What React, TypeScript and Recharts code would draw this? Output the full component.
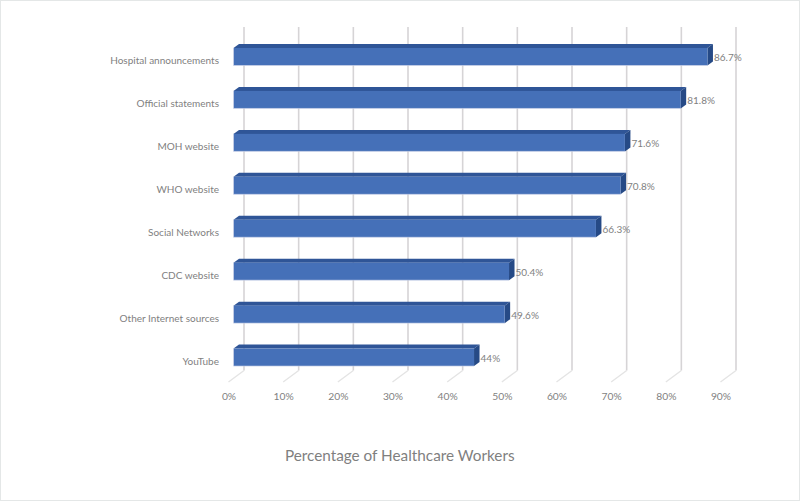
import React from 'react';
import { BarChart, Bar, XAxis, YAxis, CartesianGrid, LabelList } from 'recharts';

const categories = ['Hospital announcements', 'Official statements', 'MOH website', 'WHO website', 'Social Networks', 'CDC website', 'Other Internet sources', 'YouTube'];
const values = [86.7, 81.8, 71.6, 70.8, 66.3, 50.4, 49.6, 44];
const xTicks = [0, 10, 20, 30, 40, 50, 60, 70, 80, 90];
const axisTitle = 'Percentage of Healthcare Workers';
const data = categories.map((name, i) => ({ name, value: values[i] }));

const FONT = 'Lato, "Open Sans", sans-serif';
const TEXT = '#7f7f7f';
const DX = 5.5;
const DY = 4;

const Bar3D = (p: any) => {
  const { x, y, width: w, height: h } = p;
  return (
    <g>
      <polygon points={`${x},${y} ${x + DX},${y - DY} ${x + w + DX},${y - DY} ${x + w},${y}`} fill="#2f5597" />
      <polygon points={`${x + w},${y} ${x + w + DX},${y - DY} ${x + w + DX},${y + h - DY} ${x + w},${y + h}`} fill="#264a86" />
      <rect x={x} y={y} width={w} height={h} fill="#4570b8" />
      <path d={`M${x},${y} L${x},${y + h} L${x + w},${y + h}`} fill="none" stroke="#d5d9ec" strokeWidth={0.6} />
    </g>
  );
};

const GridLine = (p: any) => {
  const { x1, y1, y2 } = p;
  const bx = x1 + 10.5;
  return (
    <g key={`g-${x1}`} fill="none">
      <path d={`M${bx},${y1 - 8} L${bx},${y2 - 8}`} stroke="#d6d4d6" strokeWidth={1.6} />
      <path d={`M${bx},${y2 - 8} L${x1 - 5},${y2 + 3.5}`} stroke="#e4e4e4" strokeWidth={1.4} />
    </g>
  );
};

const XTick = (p: any) => (
  <text x={p.x - 4.5} y={400} textAnchor="middle" fontFamily={FONT} fontSize={10.3} fill={TEXT}>
    {p.payload.value}%
  </text>
);

const YTick = (p: any) => (
  <text x={219} y={p.y + 7.5} textAnchor="end" fontFamily={FONT} fontSize={10} fill={TEXT}>
    {p.payload.value}
  </text>
);

export default function App() {
  return (
    <div style={{ position: 'absolute', left: 0, top: 0, width: 800, height: 501, background: '#fff', overflow: 'hidden' }}>
      <div style={{ position: 'absolute', left: 0, top: 0, width: 798, height: 499, border: '1px solid #e4e7e7' }} />
      <div style={{ position: 'absolute', left: 0, top: 0 }}>
        <BarChart
          width={800}
          height={501}
          data={data}
          layout="vertical"
          margin={{ top: 35, right: 74.5, bottom: 0, left: 0 }}
          barSize={17.5}
        >
          <CartesianGrid horizontal={false} vertical={GridLine as any} />
          <XAxis
            type="number"
            domain={[0, 90]}
            ticks={xTicks}
            height={122.5}
            axisLine={false}
            tickLine={false}
            tick={XTick as any}
            interval={0}
            label={{ value: axisTitle, position: 'insideBottom', offset: 40, fontFamily: FONT, fontSize: 15.3, fill: TEXT, dx: -79.75 }}
          />
          <YAxis
            type="category"
            dataKey="name"
            width={233.5}
            axisLine={false}
            tickLine={false}
            tick={YTick as any}
            interval={0}
          />
          <Bar dataKey="value" isAnimationActive={false} shape={Bar3D as any}>
            <LabelList
              dataKey="value"
              position="right"
              offset={6.5}
              formatter={(v: any) => `${v}%`}
              fontFamily={FONT}
              fontSize={10}
              fill={TEXT}
              dy={0.8}
            />
          </Bar>
        </BarChart>
      </div>
    </div>
  );
}
